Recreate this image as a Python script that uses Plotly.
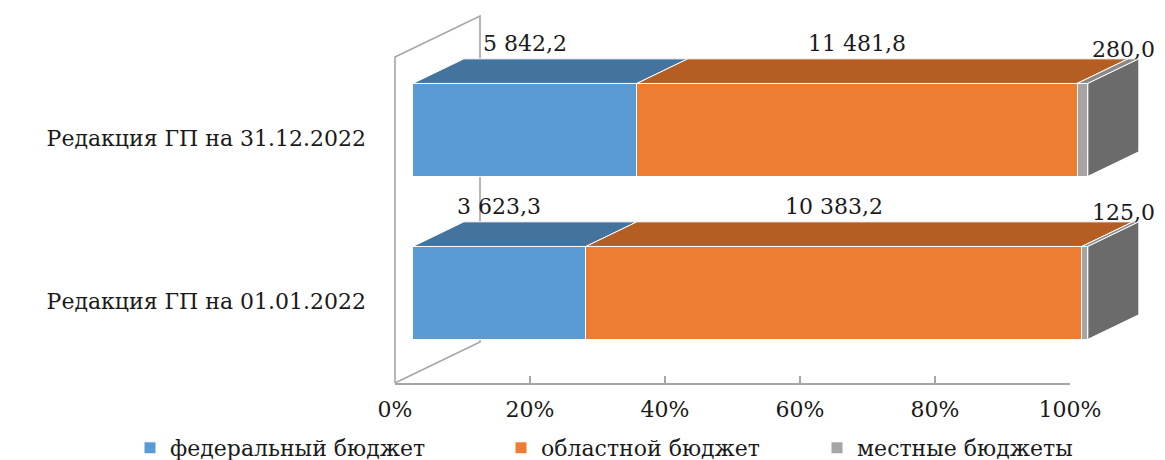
import plotly.graph_objects as go

# ---------------- data ----------------
categories = ["Редакция ГП на 01.01.2022", "Редакция ГП на 31.12.2022"]
series_names = ["федеральный бюджет", "областной бюджет", "местные бюджеты"]
federal = [3623.3, 5842.2]
regional = [10383.2, 11481.8]
local = [125.0, 280.0]
tick_values = [0, 20, 40, 60, 80, 100]
tick_labels = ["0%", "20%", "40%", "60%", "80%", "100%"]

series_values = [federal, regional, local]
front_colors = ["#5b9bd5", "#ed7d31", "#a5a5a5"]
top_colors = ["#44739e", "#b45e23", "#8a8a8a"]
side_color = "#6b6b6b"
wall_color = "#a6a6a6"
FONT = "DejaVu Serif"
FS = 22
TXT = "#1a1a1a"

# ---------------- projection geometry (pixels) ----------------
W, H = 1165, 460
X0 = 395.0          # pixel of 0 % on the front (depth 0) plane
SX = 6.75           # px per percent
Y0 = 383.0          # pixel of the floor (value -0.5) on the front plane
SY = 163.0          # px per category unit
DEPTH_PX = (85.0, 41.0)   # full depth offset (right, up)
DX = DEPTH_PX[0] / SX      # in percent units
DY = DEPTH_PX[1] / SY      # in category units
D0, D1 = 0.21, 0.81        # depth span occupied by the bars
BAR_W = 0.57
LEGEND_MARKER_PX = [150, 521, 837]
LEGEND_Y_PX = 448


def xrange_for(x0px):
    return [-x0px / SX, (W - x0px) / SX]


def yrange_for(y0px):
    return [-0.5 - (H - y0px) / SY, -0.5 + y0px / SY]


fig = go.Figure()

# ---------- subplot 1: back wall + floor diagonal ----------
wall_x = [0, 0, DX, DX, 0]
wall_y = [-0.5, 1.5, 1.5 + DY, -0.5 + DY, -0.5]
fig.add_trace(go.Scatter(x=wall_x, y=wall_y, mode="lines",
                         line=dict(color=wall_color, width=1.6),
                         showlegend=False, hoverinfo="skip",
                         xaxis="x", yaxis="y"))

# ---------- subplot 2: value axis and category labels ----------
fig.add_trace(go.Scatter(x=[0, 100], y=[-0.5, 1.5], mode="markers",
                         marker=dict(opacity=0), showlegend=False,
                         hoverinfo="skip", xaxis="x2", yaxis="y2"))

# ---------- subplot 3: bars (front faces at depth D0) ----------
n = len(categories)
ypos = list(range(n))
totals = [sum(s[i] for s in series_values) for i in range(n)]
pcts = [[s[i] / totals[i] * 100 for i in range(n)] for s in series_values]

legend_ids = ["legend", "legend2", "legend3"]
for name, vals, col, lid in zip(series_names, series_values, front_colors, legend_ids):
    fig.add_trace(go.Bar(orientation="h", y=ypos, x=vals, name=name,
                         width=BAR_W, legend=lid,
                         marker=dict(color=col, line=dict(color="white", width=1)),
                         hoverinfo="skip", xaxis="x3", yaxis="y3"))

ddx = (D1 - D0) * DX
ddy = (D1 - D0) * DY


def fmt(v):
    return f"{v:,.1f}".replace(",", " ").replace(".", ",")


annotations = []
for i in range(n):
    yc = ypos[i]
    top = yc + BAR_W / 2
    bot = yc - BAR_W / 2
    start = 0.0
    for j, (vals, tc) in enumerate(zip(series_values, top_colors)):
        a = start
        b = start + pcts[j][i]
        start = b
        fig.add_trace(go.Scatter(
            x=[a, b, b + ddx, a + ddx, a], y=[top, top, top + ddy, top + ddy, top],
            mode="lines", fill="toself", fillcolor=tc,
            line=dict(color="white", width=1), showlegend=False,
            hoverinfo="skip", xaxis="x3", yaxis="y3"))
        last = j == len(series_values) - 1
        if last:
            fig.add_trace(go.Scatter(
                x=[b, b, b + ddx, b + ddx, b],
                y=[bot, top, top + ddy, bot + ddy, bot],
                mode="lines", fill="toself", fillcolor=side_color,
                line=dict(color="white", width=1), showlegend=False,
                hoverinfo="skip", xaxis="x3", yaxis="y3"))
            annotations.append(dict(x=b, y=top, xref="x3", yref="y3",
                                    text=fmt(vals[i]), showarrow=False,
                                    xanchor="left", yanchor="middle",
                                    xshift=2, yshift=34,
                                    font=dict(family=FONT, size=FS, color=TXT)))
        else:
            annotations.append(dict(x=(a + b) / 2, y=top, xref="x3", yref="y3",
                                    text=fmt(vals[i]), showarrow=False,
                                    xanchor="center", yanchor="middle",
                                    yshift=40,
                                    font=dict(family=FONT, size=FS, color=TXT)))

bar_x0px = X0 + D0 * DEPTH_PX[0]
bar_y0px = Y0 - D0 * DEPTH_PX[1]

hidden = dict(visible=False, showgrid=False, zeroline=False, fixedrange=True,
              automargin=False)

legends = {}
for k, (lid, mx) in enumerate(zip(legend_ids, LEGEND_MARKER_PX)):
    legends[lid] = dict(orientation="h", x=(mx - 20) / W, xanchor="left",
                        y=1 - LEGEND_Y_PX / H, yanchor="middle",
                        bgcolor="rgba(0,0,0,0)",
                        font=dict(family=FONT, size=FS, color=TXT),
                        itemclick=False, itemdoubleclick=False)

fig.update_layout(
    width=W, height=H,
    margin=dict(l=0, r=0, t=0, b=0, pad=0, autoexpand=False),
    paper_bgcolor="white", plot_bgcolor="rgba(0,0,0,0)",
    barmode="stack", barnorm="percent",
    font=dict(family=FONT, size=FS, color=TXT),
    xaxis=dict(domain=[0, 1], range=xrange_for(X0), anchor="y", **hidden),
    yaxis=dict(domain=[0, 1], range=yrange_for(Y0), anchor="x", **hidden),
    xaxis2=dict(domain=[X0 / W, (X0 + 100 * SX) / W], range=[0, 100], anchor="y2",
                showgrid=False, zeroline=False, showline=True, automargin=False,
                linecolor=wall_color, linewidth=1.6,
                ticks="inside", ticklen=7, tickcolor=wall_color, tickwidth=1.6,
                tickvals=tick_values, ticktext=tick_labels,
                ticklabelstandoff=6,
                tickfont=dict(family=FONT, size=FS, color=TXT)),
    yaxis2=dict(domain=[1 - Y0 / H, 1 - (Y0 - 2 * SY) / H], range=[-0.5, 1.5],
                anchor="x2", showgrid=False, zeroline=False, showline=False,
                automargin=False,
                ticks="", tickvals=ypos, ticktext=categories,
                ticklabelstandoff=28,
                tickfont=dict(family=FONT, size=FS, color=TXT)),
    xaxis3=dict(domain=[0, 1], range=xrange_for(bar_x0px), anchor="y3", **hidden),
    yaxis3=dict(domain=[0, 1], range=yrange_for(bar_y0px), anchor="x3", **hidden),
    annotations=annotations,
    showlegend=True,
    **legends,
)

fig.write_html("out.html",
               config={"displayModeBar": False},
               post_script="document.body.style.margin='0px';"
                           "document.body.style.overflow='hidden';")
